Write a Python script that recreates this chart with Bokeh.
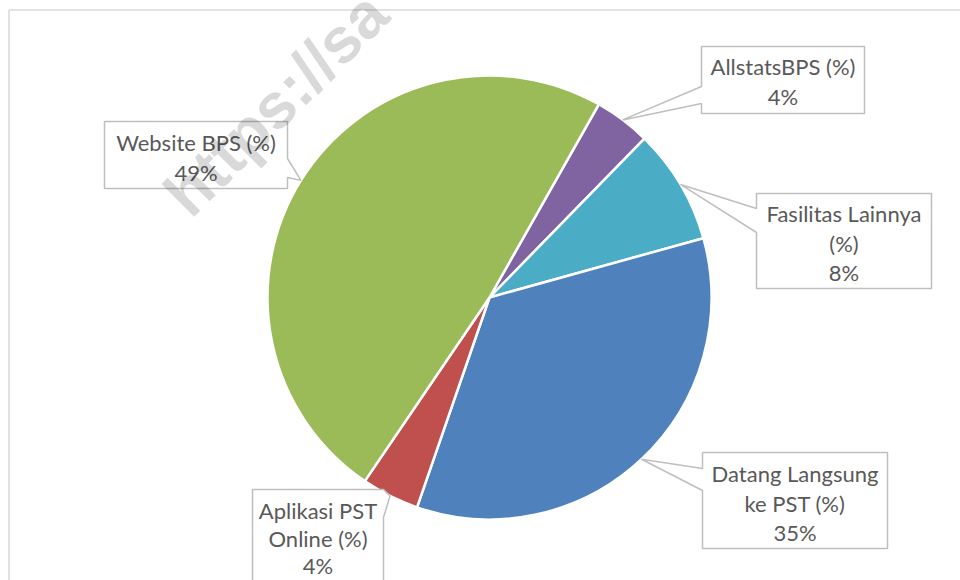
import math
from bokeh.plotting import figure
from bokeh.models import Range1d
from bokeh.core.properties import value
from bokeh.embed import file_html
from bokeh.resources import INLINE

# ---- data ----
categories = ["AllstatsBPS (%)", "Fasilitas Lainnya (%)", "Datang Langsung ke PST (%)",
              "Aplikasi PST Online (%)", "Website BPS (%)"]
shares = [4.1, 8.4, 34.6, 4.2, 48.7]
label_lines = [["AllstatsBPS (%)"], ["Fasilitas Lainnya", "(%)"], ["Datang Langsung", "ke PST (%)"],
               ["Aplikasi PST", "Online (%)"], ["Website BPS (%)"]]
colors = ["#8064A2", "#4BACC6", "#4F81BD", "#C0504D", "#9BBB59"]

# ---- layout (image pixel coordinates, y downward) ----
W, H = 960, 580
CX, CY, R = 489, 297, 222
FIRST_ANGLE = 29.5  # degrees clockwise from 12 o'clock
# box: x0, y0, x1, y1, pointer side, base top, base bottom, first line centre y, line gap
boxes = [
    (701, 46, 864, 113, "left", 86, 103, 66, 29.5),
    (756, 193, 931, 288, "left", 208, 232, 213, 29.5),
    (702, 452, 887, 548, "left", 468, 490, 473, 29.5),
    (252, 489, 383, 620, "right", 489, 517, 510, 27.5),
    (104, 121, 287, 188, "right", 158, 177, 142, 29.5),
]
FONT = "Lato"
TEXT_COLOR = "#595959"
BOX_LINE = "#bfbfbf"

p = figure(width=W, height=H, output_backend="svg", toolbar_location=None,
           x_range=Range1d(0, W), y_range=Range1d(-H, 0),
           min_border=0, outline_line_color=None)
p.axis.visible = False
p.grid.visible = False

# chart frame (top and left edges visible)
p.multi_line(xs=[[8.5, W], [8.5, 8.5]], ys=[[-9.5, -9.5], [-9.5, -H]],
             line_color="#d9d9d9", line_width=1.5)

# pie wedges, clockwise from FIRST_ANGLE
total = sum(shares)
starts, ends, mids = [], [], []
acc = 0.0
for v in shares:
    a0 = FIRST_ANGLE + acc / total * 360.0
    acc += v
    a1 = FIRST_ANGLE + acc / total * 360.0
    starts.append(math.radians(90 - a1))
    ends.append(math.radians(90 - a0))
    mids.append((a0 + a1) / 2)

p.wedge(x=[CX] * len(shares), y=[-CY] * len(shares), radius=R,
        start_angle=starts, end_angle=ends, fill_color=colors,
        line_color="white", line_width=2.5)

# callouts
for i, (x0, y0, x1, y1, side, b0, b1, ty0, gap) in enumerate(boxes):
    m = math.radians(mids[i])
    tx = CX + R * math.sin(m)
    ty = CY - R * math.cos(m)
    if side == "left":
        pts = [(x0, y0), (x1, y0), (x1, y1), (x0, y1), (x0, b1), (tx, ty), (x0, b0)]
    else:
        pts = [(x0, y0), (x1, y0), (x1, b0), (tx, ty), (x1, b1), (x1, y1), (x0, y1)]
    p.patch([q[0] for q in pts], [-q[1] for q in pts], fill_color="white",
            line_color=BOX_LINE, line_width=1.5)
    lines = label_lines[i] + [f"{round(shares[i])}%"]
    xc = (x0 + x1) / 2
    p.text(x=[xc] * len(lines), y=[-(ty0 + k * gap) for k in range(len(lines))],
           text=lines, text_align="center", text_baseline="middle",
           text_font=value(FONT), text_font_size="22px", text_color=TEXT_COLOR)

# watermark
p.text(x=[175], y=[-204], text=["https://sa"], angle=math.radians(45),
       text_font=value("Liberation Sans"), text_font_style="bold",
       text_font_size="64px", text_color="black", text_alpha=0.15,
       text_align="left", text_baseline="alphabetic")

open("out.html", "w").write(file_html(p, INLINE))
